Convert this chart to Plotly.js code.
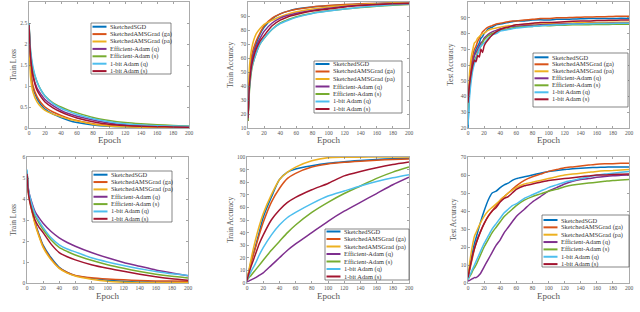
<!DOCTYPE html>
<html><head><meta charset="utf-8">
<script src="https://cdn.plot.ly/plotly-3.0.1.min.js"></script>
<style>html,body{margin:0;padding:0;background:#fff;overflow:hidden}#c{width:640px;height:312px}</style>
</head><body><div id="c"></div>
<script>
// ---------- data ----------
const seriesNames = ["SketchedSGD","SketchedAMSGrad (ga)","SketchedAMSGrad (pa)","Efficient-Adam (q)","Efficient-Adam (s)","1-bit Adam (q)","1-bit Adam (s)"];
const seriesColors = ["#0072BD","#D95319","#EDB120","#7E2F8E","#77AC30","#4DBEEE","#A2142F"];

const epochs = [0,2,5,10,15,20,30,40,50,60,80,100,120,140,160,180,200];
const epochsTest10 = [0,2,4,6,8,10,12,14,16,18,20,22,25,30,35,40,45,50,55,60,70,80,90,100,110,120,130,140,150,160,170,180,190,200];
const epochsTest100 = [0,2,4,6,8,10,15,20,25,30,35,40,45,50,55,60,70,80,90,100,110,120,130,140,150,160,170,180,190,200];

// CIFAR-10 train loss
const c10Loss = [
 [2.5,1.4,0.95,0.7,0.55,0.45,0.33,0.25,0.18,0.13,0.07,0.04,0.03,0.02,0.015,0.01,0.01],
 [2.5,1.5,1.0,0.75,0.6,0.5,0.38,0.3,0.23,0.18,0.1,0.06,0.04,0.03,0.02,0.015,0.01],
 [2.3,1.2,0.85,0.62,0.5,0.42,0.33,0.27,0.21,0.17,0.09,0.05,0.03,0.02,0.015,0.01,0.01],
 [2.5,1.7,1.25,0.95,0.8,0.68,0.53,0.42,0.34,0.28,0.19,0.12,0.08,0.06,0.045,0.035,0.03],
 [2.5,1.8,1.4,1.1,0.9,0.76,0.6,0.5,0.42,0.36,0.25,0.18,0.13,0.1,0.08,0.06,0.05],
 [2.5,1.85,1.45,1.1,0.9,0.76,0.58,0.47,0.39,0.32,0.22,0.15,0.1,0.07,0.055,0.045,0.04],
 [2.45,1.7,1.25,0.9,0.74,0.62,0.48,0.38,0.3,0.24,0.15,0.09,0.06,0.04,0.03,0.025,0.02]
];
// CIFAR-10 train accuracy
const c10TrainAcc = [
 [15,45,60,70,77,82,88,91.5,93.5,95,96.5,97.3,98,98.5,99,99.3,99.5],
 [15,48,63,72,78,83,88.5,91.5,93.5,94.8,96.5,97.5,98.2,98.7,99,99.3,99.5],
 [20,55,68,77,81,84,87,89.5,91.5,93,95,96.5,97.5,98.3,98.8,99.2,99.4],
 [17,42,58,68,74,79,85,88.5,90.5,92,94,95.5,96.8,97.7,98.3,98.8,99.1],
 [15,38,53,63,70,74,80.5,85,87.5,89.5,92,93.7,95,96,97,97.7,98.2],
 [17,40,54,63,70,74,80.5,84.5,87,89,91.8,93.5,95,96.2,97.2,98,98.5],
 [17,42,56,66,72,76,83,87,89.5,91,93.5,95,96.5,97.5,98.2,98.8,99]
];
// CIFAR-10 test accuracy
const c10TestAcc = [
 [20,45,55,62,67,70,72,74,77,78,80,81,83,84,85.5,86,86.5,87,87.5,88,88,88.5,88.7,88.5,89,89,89.2,89.3,89.5,89.5,89.6,89.5,89.7,89.6],
 [28,50,60,66,70,72,75,77,79,81,82,83,84,85,86,86.5,87,87.5,88,88,88.5,89,89.5,89.5,90,90,90.2,90.3,90.5,90.6,90.7,90.8,91,91],
 [30,55,65,70,74,75,77,78,79,80,80,81,82,83,83.5,84,84.5,85,85,85.5,85.5,86,86,86.2,86.5,86.5,86.7,86.8,87,87,87,87.2,87.1,87.2],
 [35,48,56,62,66,68,70,72,74,75,77,78,79.5,81,82,83,83.5,84,84.5,84.5,85,85.2,85.5,85.5,85.8,86,86,86.2,86.3,86.3,86.4,86.5,86.5,86.5],
 [25,45,53,59,63,65,68,70,72,74,76,77,78.5,80,81,82,82.5,83,83.5,84,84.3,84.5,85,85,85.2,85.3,85.5,85.5,85.6,85.7,85.7,85.8,85.8,85.9],
 [22,40,50,57,61,64,67,70,72,73,74,75,77,79,80,81.5,82,82.5,83,83.5,84,84.5,85,85.2,85.5,85.7,86,86,86.2,86.3,86.3,86.4,86.5,86.5],
 [36,48,55,60,63,62,66,65,70,68,72,74,76,79,81,82.5,83.5,84,85,85.5,86,86.5,87,87,87.2,87.5,87.8,88,88,88.2,88.3,88.4,88.5,88.5]
];
// CIFAR-100 train loss
const c100Loss = [
 [5.3,4.3,3.7,2.9,2.3,1.8,1.2,0.75,0.5,0.35,0.22,0.13,0.08,0.05,0.04,0.03,0.02],
 [5.3,4.3,3.7,2.85,2.25,1.75,1.15,0.72,0.5,0.36,0.25,0.19,0.15,0.12,0.1,0.09,0.08],
 [5.3,4.2,3.6,2.8,2.2,1.7,1.1,0.7,0.47,0.33,0.18,0.08,0.04,0.02,0.015,0.01,0.01],
 [5.3,4.4,3.95,3.4,3.1,2.85,2.45,2.15,1.93,1.75,1.45,1.2,0.98,0.8,0.62,0.48,0.35],
 [5.3,4.3,3.8,3.2,2.85,2.55,2.05,1.7,1.5,1.33,1.08,0.87,0.7,0.55,0.42,0.32,0.24],
 [5.4,4.4,3.9,3.3,2.95,2.65,2.15,1.82,1.62,1.48,1.2,1.0,0.83,0.68,0.55,0.44,0.36],
 [5.2,4.2,3.6,3.0,2.65,2.4,1.85,1.45,1.25,1.1,0.87,0.7,0.56,0.42,0.3,0.2,0.13]
];
// CIFAR-100 train accuracy
const c100TrainAcc = [
 [2,8,17,28,40,52,68,82,88,90.5,93,95,96.3,97.2,98,98.6,99],
 [2,8,16,27,38,48,64,75,83,87,92,94.5,95.8,96.7,97.5,98.1,98.5],
 [2,9,19,33,45,55,70,82,88,92,97,99.5,99.8,99.9,100,100,100],
 [1,1.5,2.5,4,6,8,14,20,26,31,40,49,57,64,71,78,84],
 [2,4,6,10,14,18,26,33,40,46,56,64,71,77,83,88,92],
 [2,5,9,15,22,28,38,46,52,56,63,69,73,77,80.5,83.5,86],
 [2,7,13,22,31,38,50,58,64,68,74,79,85,88.5,91.5,94,96]
];
// CIFAR-100 test accuracy
const c100TestAcc = [
 [3,8,13,18,22,25,33,40,46,50,51,53,54.5,55.5,57,58,59,60,61,62,62.5,63,63.5,63.8,64,64.2,64.3,64.5,64.4,64.5],
 [3,7,11,15,19,22,28,33,37,40,43,46,48,50,52,54,57,59,60.5,62,63,64,64.5,65,65.5,66,66.2,66.3,66.5,66.5],
 [3,11,17,22,26,28,33,37,40,42,44,46,48,50,51.5,53,55,56,57,58,59,60,60.5,61,61.5,62,62.3,62.5,62.8,63],
 [1,1.5,2,2.5,3,3,5,9,13,17,21,24,28,31,34,37,41,45,48,51,53,55,56.5,57.5,58,58.7,59.2,59.6,59.8,60],
 [2,3.5,5,7,8.5,10,15,20,24,28,31,34,37,39,41,43,46,48,49.5,51,52,53.5,54.5,55,55.5,56,56.5,57,57.2,57.5],
 [2,4,6,8,10,12,17,22,26,30,33,36,39,41,43,44,47,49,51,53,54.5,56,57,58,59,59.8,60.5,61,61.5,62],
 [3,8,12,16,19,22,28,33,37,40,42,45,47,48,50,52,54,55,56,57,57.5,58,58.5,59,59.5,60,60,60.3,60.4,60.5]
];

const xTickVals = [0,20,40,60,80,100,120,140,160,180,200];
const panelYLabels = ["Train Loss","Train Accuracy","Test Accuracy","Train Loss","Train Accuracy","Test Accuracy"];
const panelXLabel = "Epoch";

// ---------- layout geometry (pixels) ----------
const W = 640, H = 312;
const panels = [
 {x:epochs, ys:c10Loss, box:[29,189,2,128], yr:[0,3], dt:0.5, leg:[91,171,23,74,26.7,7.4], yt:13, xt:140},
 {x:epochs, ys:c10TrainAcc, box:[248,409,2,128], yr:[10,100], dt:10, leg:[314,402,61,113,64,7.5], yt:230, xt:140},
 {x:epochsTest10, ys:c10TestAcc, box:[468,629,2,128], yr:[20,100], dt:10, leg:[533,628,53,107,57.3,7.0], yt:450, xt:140},
 {x:epochs, ys:c100Loss, box:[27,188,157,283], yr:[0,6], dt:1, leg:[92,172,171,222,174.7,7.35], yt:13, xt:296},
 {x:epochs, ys:c100TrainAcc, box:[247,409,157,283], yr:[0,100], dt:10, leg:[325,409,229,280,231.5,7.5], yt:230, xt:296},
 {x:epochsTest100, ys:c100TestAcc, box:[468,629,157,283], yr:[0,70], dt:10, leg:[542,629,215,267,220,7.35], yt:453, xt:296}
];
const px = v => v / W, py = v => 1 - v / H;
const serif = "Liberation Serif, DejaVu Serif, serif";

const traces = [], shapes = [], annotations = [];
const layout = {
  width: W, height: H, margin:{l:0,r:0,t:0,b:0}, showlegend:false,
  paper_bgcolor:"#fff", plot_bgcolor:"#fff", font:{family:serif, color:"#444"}
};

panels.forEach((p, i) => {
  const n = i + 1, sx = n === 1 ? "" : String(n);
  const [x0,x1,y0,y1] = p.box;
  layout["xaxis"+sx] = {
    domain:[px(x0), px(x1)], range:[0,200], anchor:"y"+sx,
    tickvals:xTickVals, ticks:"inside", ticklen:2, tickcolor:"#666", tickwidth:0.6,
    showline:true, linecolor:"#888", linewidth:0.7, mirror:"allticks",
    showgrid:false, zeroline:false, automargin:false,
    tickfont:{family:serif, size:5.5, color:"#555"}
  };
  const yt = [];
  for (let v = p.yr[0]; v <= p.yr[1] + 1e-9; v += p.dt) yt.push(+v.toFixed(2));
  layout["yaxis"+sx] = {
    domain:[py(y1), py(y0)], range:p.yr, anchor:"x"+sx,
    tickvals:yt, ticks:"inside", ticklen:2, tickcolor:"#666", tickwidth:0.6,
    showline:true, linecolor:"#888", linewidth:0.7, mirror:"allticks",
    showgrid:false, zeroline:false, automargin:false,
    tickfont:{family:serif, size:5.5, color:"#555"}
  };
  p.ys.forEach((y, k) => {
    traces.push({
      type:"scatter", mode:"lines", x:p.x, y:y, name:seriesNames[k],
      xaxis:"x"+sx, yaxis:"y"+sx,
      line:{color:seriesColors[k], width:1.5, shape:"spline", smoothing:0.6},
      hoverinfo:"skip"
    });
  });
  // axis titles
  annotations.push({xref:"paper", yref:"paper", x:px((x0+x1)/2), y:py(p.xt), text:panelXLabel,
    showarrow:false, xanchor:"center", yanchor:"middle", font:{family:serif, size:9, color:"#555"}});
  annotations.push({xref:"paper", yref:"paper", x:px(p.yt), y:py((y0+y1)/2), text:panelYLabels[i],
    showarrow:false, xanchor:"center", yanchor:"middle", textangle:-90, font:{family:serif, size:7.5, color:"#555"}});
  // legend box
  const [lx0,lx1,ly0,ly1,first,step] = p.leg;
  shapes.push({type:"rect", xref:"paper", yref:"paper", x0:px(lx0), x1:px(lx1), y0:py(ly1), y1:py(ly0),
    line:{color:"#555", width:0.7}, fillcolor:"#fff", layer:"above"});
  seriesNames.forEach((nm, k) => {
    const yy = first + k*step;
    shapes.push({type:"line", xref:"paper", yref:"paper", x0:px(lx0+1.5), x1:px(lx0+15.5), y0:py(yy), y1:py(yy),
      line:{color:seriesColors[k], width:2}, layer:"above"});
    annotations.push({xref:"paper", yref:"paper", x:px(lx0+16.5), y:py(yy), text:nm, showarrow:false,
      xanchor:"left", yanchor:"middle", font:{family:serif, size:6.4, color:"#333"}});
  });
});
layout.shapes = shapes;
layout.annotations = annotations;
Plotly.newPlot("c", traces, layout, {staticPlot:true, displayModeBar:false});
</script></body></html>
